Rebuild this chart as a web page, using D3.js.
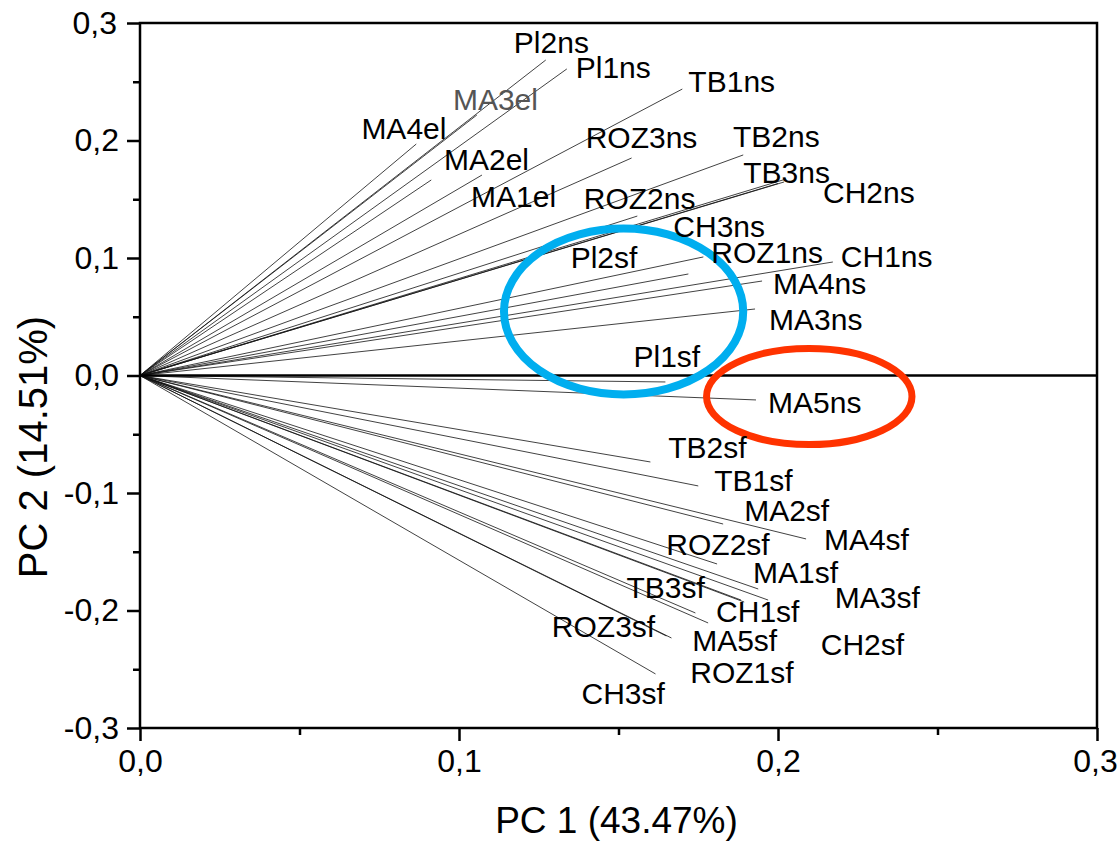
<!DOCTYPE html>
<html>
<head>
<meta charset="utf-8">
<script src="https://cdn.jsdelivr.net/npm/d3@7"></script>
<style>
  body { margin: 0; background: #fff; }
  svg text { font-family: Arial, "Liberation Sans", sans-serif; }
</style>
</head>
<body>
<div id="chart"></div>
<script>
// loading vectors (PC1, PC2)
const names = ["Pl2ns", "Pl1ns", "MA3el", "MA4el", "MA2el", "MA1el", "TB1ns", "ROZ3ns", "TB2ns", "TB3ns",
  "CH2ns", "ROZ2ns", "CH3ns", "ROZ1ns", "CH1ns", "Pl2sf", "MA4ns", "MA3ns", "Pl1sf", "MA5ns",
  "TB2sf", "TB1sf", "MA2sf", "MA4sf", "ROZ2sf", "MA1sf", "TB3sf", "MA3sf", "CH1sf", "ROZ3sf",
  "MA5sf", "CH2sf", "ROZ1sf", "CH3sf"];
const pc1 = [0.1272, 0.1338, 0.1056, 0.0866, 0.0913, 0.1072, 0.1700, 0.1541, 0.1891, 0.2025,
  0.2019, 0.1559, 0.2000, 0.1766, 0.2172, 0.1719, 0.1950, 0.1928, 0.1647, 0.1931,
  0.1600, 0.1750, 0.1828, 0.2088, 0.1809, 0.1938, 0.1741, 0.1969, 0.1884, 0.1650,
  0.1666, 0.1894, 0.1781, 0.1616];
const pc2 = [0.2685, 0.2609, 0.2217, 0.1970, 0.1664, 0.1706, 0.2438, 0.1851, 0.1877, 0.1672,
  0.1647, 0.1357, 0.1634, 0.1009, 0.0966, 0.0864, 0.0804, 0.0566, -0.0055, -0.0208,
  -0.0736, -0.0940, -0.1264, -0.1391, -0.1604, -0.1817, -0.2021, -0.1911, -0.1911, -0.2217,
  -0.2234, -0.1928, -0.2106, -0.2540];
// where each name is written (data units, left / baseline)
const labelPc1 = [0.1172, 0.1366, 0.0981, 0.0694, 0.0953, 0.1038, 0.1719, 0.1397, 0.1859, 0.1891,
  0.2141, 0.1391, 0.1672, 0.1791, 0.2197, 0.1350, 0.1984, 0.1972, 0.1547, 0.1969,
  0.1656, 0.1800, 0.1894, 0.2144, 0.1650, 0.1922, 0.1525, 0.2178, 0.1806, 0.1291,
  0.1731, 0.2134, 0.1725, 0.1384];
const labelPc2 = [0.2745, 0.2532, 0.2260, 0.2013, 0.1749, 0.1434, 0.2413, 0.1936, 0.1945, 0.1638,
  0.1468, 0.1417, 0.1179, 0.0957, 0.0923, 0.0915, 0.0694, 0.0387, 0.0072, -0.0319,
  -0.0702, -0.0983, -0.1238, -0.1485, -0.1528, -0.1766, -0.1894, -0.1979, -0.2098, -0.2226,
  -0.2345, -0.2379, -0.2617, -0.2796];
const greyLabels = ["MA3el"];

// highlight ellipses: centre pc1, centre pc2, radius pc1, radius pc2
const blueRing = [0.1516, 0.0545, 0.0375, 0.0706];
const redRing = [0.2098, -0.0179, 0.0322, 0.0409];

const xTicks = [0, 0.1, 0.2, 0.3];
const xMinor = [0.05, 0.15, 0.25];
const yTicks = [-0.3, -0.2, -0.1, 0, 0.1, 0.2, 0.3];
const yMinor = [-0.25, -0.15, -0.05, 0.05, 0.15, 0.25];

const W = 1120, H = 841;
const plotLeft = 140, plotRight = 1097, plotTop = 23, plotBottom = 728;

const svg = d3.select("#chart").append("svg")
  .attr("width", W).attr("height", H);

const x = d3.scaleLinear().domain([0, 0.3]).range([plotLeft, plotRight]);
const y = d3.scaleLinear().domain([-0.3, 0.3]).range([plotBottom, plotTop]);
const fmt = d => d3.format(".1f")(d).replace(".", ",").replace("−", "-");

// vectors
const rows = names.map((n, i) => ({ name: n, x: pc1[i], y: pc2[i], lx: labelPc1[i], ly: labelPc2[i] }));
svg.append("g").selectAll("line")
  .data(rows).enter().append("line")
  .attr("x1", x(0)).attr("y1", y(0))
  .attr("x2", d => x(d.x)).attr("y2", d => y(d.y))
  .attr("stroke", "#111").attr("stroke-width", 0.8);

// zero line
svg.append("line")
  .attr("x1", x(0)).attr("x2", x(0.3)).attr("y1", y(0)).attr("y2", y(0))
  .attr("stroke", "#000").attr("stroke-width", 2.5);

// ellipses
svg.append("ellipse")
  .attr("cx", x(blueRing[0])).attr("cy", y(blueRing[1]))
  .attr("rx", x(blueRing[2]) - x(0)).attr("ry", y(0) - y(blueRing[3]))
  .attr("fill", "none").attr("stroke", "#00aeef").attr("stroke-width", 8);
svg.append("ellipse")
  .attr("cx", x(redRing[0])).attr("cy", y(redRing[1]))
  .attr("rx", x(redRing[2]) - x(0)).attr("ry", y(0) - y(redRing[3]))
  .attr("fill", "none").attr("stroke", "#ff3300").attr("stroke-width", 7);

// labels
svg.append("g").selectAll("text")
  .data(rows).enter().append("text")
  .attr("x", d => x(d.lx)).attr("y", d => y(d.ly))
  .attr("font-size", 30)
  .attr("fill", d => greyLabels.includes(d.name) ? "#555" : "#000")
  .text(d => d.name);

// frame
svg.append("rect")
  .attr("x", plotLeft).attr("y", plotTop)
  .attr("width", plotRight - plotLeft).attr("height", plotBottom - plotTop)
  .attr("fill", "none").attr("stroke", "#000").attr("stroke-width", 2.5);

// axes
svg.append("g").attr("transform", "translate(0," + plotBottom + ")")
  .call(d3.axisBottom(x).tickValues(xTicks).tickSize(13).tickPadding(8).tickFormat(fmt));
svg.append("g").attr("transform", "translate(0," + plotBottom + ")")
  .call(d3.axisBottom(x).tickValues(xMinor).tickSize(7).tickFormat(""));
svg.append("g").attr("transform", "translate(" + plotLeft + ",0)")
  .call(d3.axisLeft(y).tickValues(yTicks).tickSize(13).tickPadding(8).tickFormat(fmt));
svg.append("g").attr("transform", "translate(" + plotLeft + ",0)")
  .call(d3.axisLeft(y).tickValues(yMinor).tickSize(7).tickFormat(""));

svg.selectAll(".domain").remove();
svg.selectAll(".tick line").attr("stroke", "#000").attr("stroke-width", 2.5);
svg.selectAll(".tick text").attr("font-size", 32).attr("fill", "#000")
  .attr("font-family", "Arial, 'Liberation Sans', sans-serif");
// last x label touches the page edge, pull it in a bit
svg.selectAll(".tick text").filter(d => d === 0.3).attr("dx", -2);

// axis titles
svg.append("text")
  .attr("x", (plotLeft + plotRight) / 2 - 2).attr("y", 833)
  .attr("text-anchor", "middle").attr("font-size", 37)
  .text("PC 1 (43.47%)");
svg.append("text")
  .attr("transform", "translate(47,447) rotate(-90)")
  .attr("text-anchor", "middle").attr("font-size", 40)
  .text("PC 2 (14.51%)");
</script>
</body>
</html>
